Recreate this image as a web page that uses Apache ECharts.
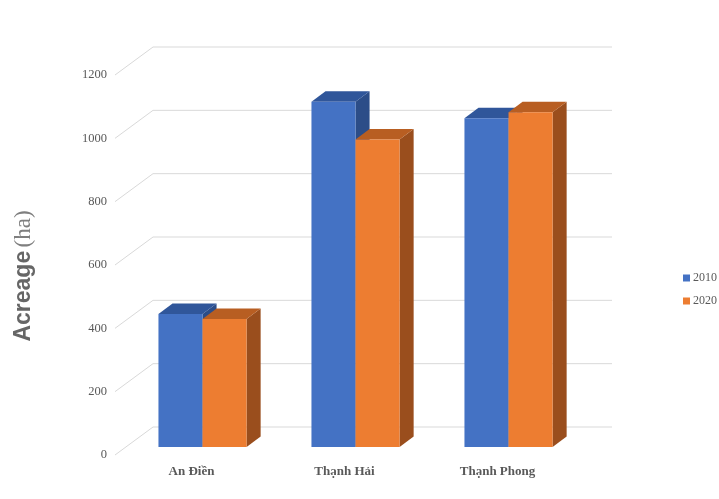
<!DOCTYPE html>
<html>
<head>
<meta charset="utf-8">
<script src="https://cdn.jsdelivr.net/npm/echarts@6/dist/echarts.min.js"></script>
<style>
  html, body { margin: 0; padding: 0; background: #fff; }
  #chart { width: 719px; height: 499px; }
</style>
</head>
<body>
<div id="chart"></div>
<script>
// Acreage per commune, 2010 vs 2020
const categories = ['An Điền', 'Thạnh Hải', 'Thạnh Phong'];
const values2010 = [420, 1090, 1038];
const values2020 = [404, 971, 1057];
const yTicks = [0, 200, 400, 600, 800, 1000, 1200];

// Oblique projection of the 3D box: back wall offset and bar depth
const WALL_DX = 38, WALL_DY = -28;
const BAR_FRONT = 0.29;   // depth fraction of the bars' front faces
const BAR_DEPTH = 0.37;   // depth fraction occupied by the bars
const BAR_RATIO = 0.288;  // single bar width as a share of the category band

const GRID_COLOR = '#d9d9d9';
const TEXT_COLOR = '#595959';

const palette = {
  '2010': { front: '#4472C4', top: '#30569A', side: '#2C4D88' },
  '2020': { front: '#ED7D31', top: '#B85E22', side: '#9A4E1D' }
};

const chart = echarts.init(document.getElementById('chart'), null, { renderer: 'canvas' });

function renderWall(params, api) {
  const cs = params.coordSys;
  const v = api.value(1);
  const p = api.coord([0, v]);
  const x0 = cs.x, y0 = p[1];
  const x1 = x0 + WALL_DX, y1 = y0 + WALL_DY;
  const x2 = cs.x + cs.width + WALL_DX;
  return {
    type: 'polyline',
    shape: { points: [[x0, y0], [x1, y1], [x2, y1]] },
    style: { stroke: GRID_COLOR, lineWidth: 1, fill: null },
    silent: true
  };
}

function makeBarRenderer(side, colors) {
  return function (params, api) {
    const idx = api.value(0);
    const v = api.value(1);
    const top = api.coord([idx, v]);
    const base = api.coord([idx, 0]);
    const band = api.size([1, 0])[0];
    const w = band * BAR_RATIO;
    const fx = BAR_FRONT * WALL_DX, fy = BAR_FRONT * WALL_DY;
    const dx = BAR_DEPTH * WALL_DX, dy = BAR_DEPTH * WALL_DY;
    const xl = top[0] + (side < 0 ? -w : 0) + fx;
    const xr = xl + w;
    const yt = top[1] + fy;
    const yb = base[1] + fy;
    return {
      type: 'group',
      children: [
        {
          type: 'polygon',
          shape: { points: [[xr, yt], [xr + dx, yt + dy], [xr + dx, yb + dy], [xr, yb]] },
          style: { fill: colors.side }
        },
        {
          type: 'polygon',
          shape: { points: [[xl, yt], [xl + dx, yt + dy], [xr + dx, yt + dy], [xr, yt]] },
          style: { fill: colors.top }
        },
        {
          type: 'rect',
          shape: { x: xl, y: yt, width: w, height: yb - yt },
          style: { fill: colors.front }
        }
      ]
    };
  };
}

const option = {
  backgroundColor: '#ffffff',
  animation: false,
  grid: { left: 115, right: 145, top: 75, bottom: 44 },
  legend: {
    orient: 'vertical',
    left: 683,
    top: 272,
    padding: 0,
    itemWidth: 7,
    itemHeight: 7,
    itemGap: 11,
    icon: 'rect',
    textStyle: { fontFamily: 'Liberation Serif', fontSize: 12, color: TEXT_COLOR, padding: [0, 0, 0, -2] },
    data: [
      { name: '2010', itemStyle: { color: palette['2010'].front } },
      { name: '2020', itemStyle: { color: palette['2020'].front } }
    ]
  },
  xAxis: {
    type: 'category',
    data: categories,
    axisLine: { show: false },
    axisTick: { show: false },
    axisLabel: {
      margin: 10,
      fontFamily: 'Liberation Serif',
      fontWeight: 'bold',
      fontSize: 13,
      color: TEXT_COLOR
    }
  },
  yAxis: {
    type: 'value',
    min: 0,
    max: 1200,
    interval: 200,
    axisLine: { show: false },
    axisTick: { show: false },
    splitLine: { show: false },
    axisLabel: {
      margin: 8,
      fontFamily: 'Liberation Serif',
      fontSize: 12.5,
      color: TEXT_COLOR,
      formatter: v => String(v)
    },
    name: '{a|Acreage} {b|(ha)}',
    nameLocation: 'middle',
    nameRotate: 90,
    nameGap: 80,
    nameTextStyle: {
      padding: [0, 22, 0, 0],
      rich: {
        a: { fontFamily: 'Liberation Sans', fontWeight: 'bold', fontSize: 23, color: '#666666' },
        b: { fontFamily: 'Liberation Serif', fontSize: 23, color: '#7f7f7f' }
      }
    }
  },
  series: [
    {
      type: 'custom',
      name: 'wall',
      z: 1,
      silent: true,
      renderItem: renderWall,
      data: yTicks.map(v => [0, v])
    },
    {
      type: 'custom',
      name: '2010',
      z: 2,
      itemStyle: { color: palette['2010'].front },
      renderItem: makeBarRenderer(-1, palette['2010']),
      data: values2010.map((v, i) => [i, v])
    },
    {
      type: 'custom',
      name: '2020',
      z: 3,
      itemStyle: { color: palette['2020'].front },
      renderItem: makeBarRenderer(1, palette['2020']),
      data: values2020.map((v, i) => [i, v])
    }
  ]
};

chart.setOption(option);
</script>
</body>
</html>
